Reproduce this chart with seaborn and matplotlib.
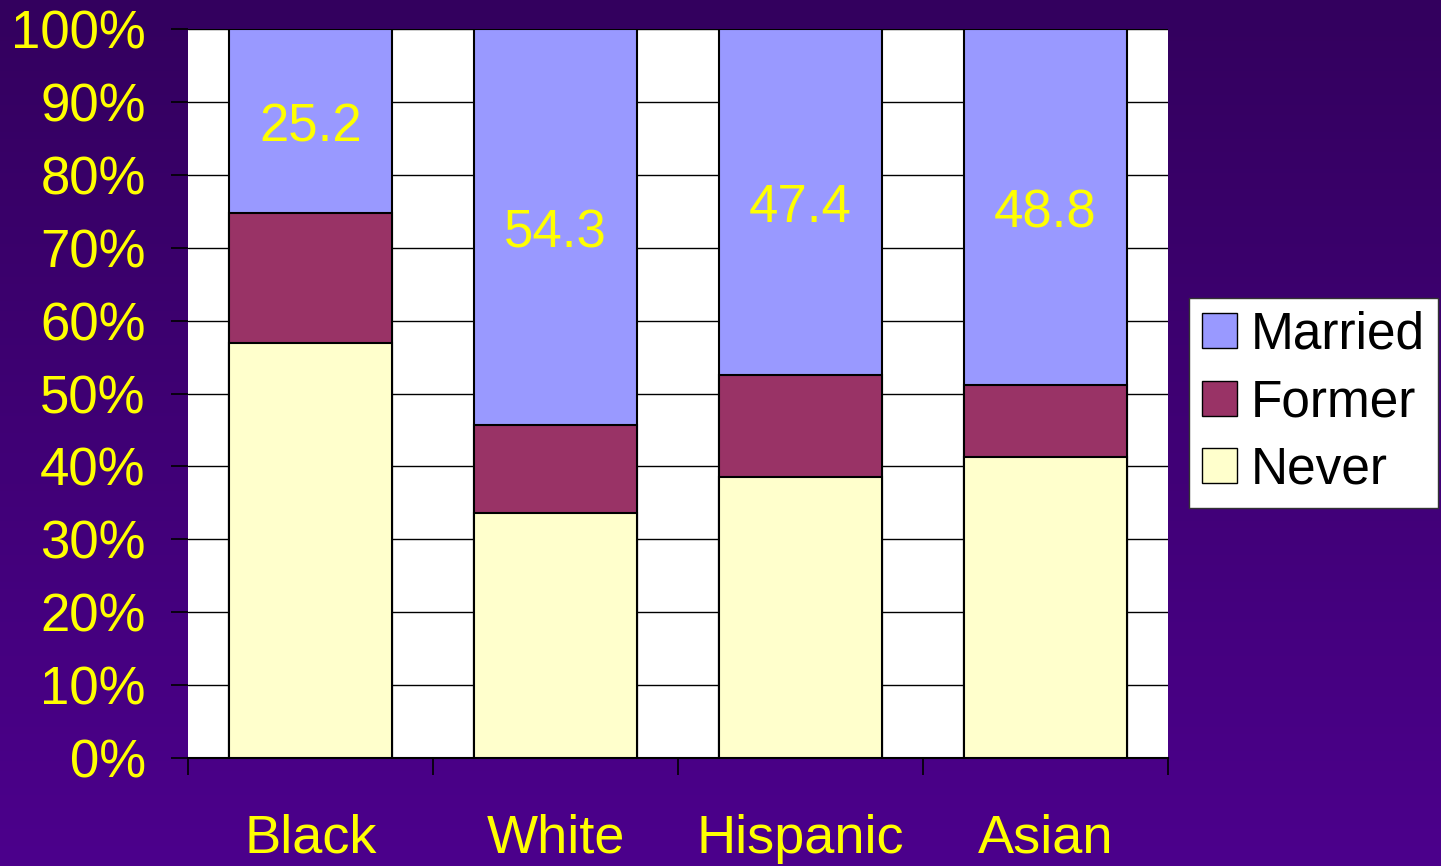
import numpy as np
import pandas as pd
import seaborn as sns
import matplotlib.pyplot as plt
from matplotlib.patches import Patch

# values (percent of each group)
groups = ["Black", "White", "Hispanic", "Asian"]
never = [56.9, 33.6, 38.5, 41.3]
former = [17.9, 12.1, 14.1, 9.9]
married = [25.2, 54.3, 47.4, 48.8]
y_ticks = list(range(0, 101, 10))

COL_NEVER = "#ffffcc"
COL_FORMER = "#993366"
COL_MARRIED = "#9999ff"
YELLOW = "#ffff00"

df = pd.DataFrame({"group": groups, "never": never, "former": former, "married": married})
df["never_top"] = df["never"]
df["former_top"] = df["never"] + df["former"]
df["married_top"] = df["former_top"] + df["married"]

sns.set_theme(style="white")
plt.rcParams["font.family"] = ["Liberation Sans", "DejaVu Sans"]

fig = plt.figure(figsize=(14.41, 8.66), dpi=100)

# purple gradient background
bg = fig.add_axes([0, 0, 1, 1], zorder=-10)
grad = np.linspace(0, 1, 256).reshape(-1, 1)
top = np.array([0x33, 0x00, 0x5e]) / 255
bot = np.array([0x4c, 0x00, 0x8c]) / 255
img = top + (bot - top) * grad[..., None]
bg.imshow(img, aspect="auto", extent=[0, 1, 0, 1])
bg.axis("off")

ax = fig.add_axes([188 / 1441, 108 / 866, 980 / 1441, 729 / 866])
ax.set_facecolor("white")

bar_kw = dict(width=0.665, edgecolor="black", linewidth=1.5, saturation=1, zorder=3)
sns.barplot(data=df, x="group", y="married_top", color=COL_MARRIED, ax=ax, **bar_kw)
sns.barplot(data=df, x="group", y="former_top", color=COL_FORMER, ax=ax, **bar_kw)
sns.barplot(data=df, x="group", y="never_top", color=COL_NEVER, ax=ax, **bar_kw)

# married share labels, centred in the married segment
for i, row in df.iterrows():
    ax.annotate(f"{row['married']:.1f}", (i, row["former_top"] + row["married"] / 2),
                xytext=(0, -4.5), textcoords="offset points",
                ha="center", va="center", color=YELLOW, fontsize=38, zorder=5)

ax.set_xlim(-0.5, len(groups) - 0.5)
ax.set_ylim(0, 100)
ax.set_yticks(y_ticks)
ax.set_yticklabels([f"{t}%" for t in y_ticks])
ax.yaxis.grid(True, color="black", linewidth=1, zorder=0)
ax.set_axisbelow(True)

ax.set_xticks(range(len(groups)))
ax.set_xticklabels(groups)
ax.set_xticks(np.arange(-0.5, len(groups), 1.0), minor=True)
ax.tick_params(axis="x", which="major", length=0, pad=40, labelsize=39, labelcolor=YELLOW)
ax.tick_params(axis="x", which="minor", length=12, width=1.2, color="black", direction="out", bottom=True)
ax.tick_params(axis="y", length=12.5, width=1.2, color="black", direction="out", left=True,
               pad=18, labelsize=38, labelcolor=YELLOW)
ax.set_xlabel("")
ax.set_ylabel("")

for side in ["top", "right", "left"]:
    ax.spines[side].set_visible(False)
ax.spines["bottom"].set_color("black")
ax.spines["bottom"].set_linewidth(1.5)

handles = [Patch(facecolor=COL_MARRIED, edgecolor="black", label="Married"),
           Patch(facecolor=COL_FORMER, edgecolor="black", label="Former"),
           Patch(facecolor=COL_NEVER, edgecolor="black", label="Never")]
leg = fig.legend(handles=handles, loc="center left", bbox_to_anchor=(1189 / 1441, 0.535),
                 fontsize=37, frameon=True, fancybox=False, framealpha=1, labelcolor="black",
                 handlelength=0.68, handleheight=0.68, handletextpad=0.28,
                 labelspacing=0.36, borderpad=0.25, borderaxespad=0)
leg.get_frame().set_edgecolor("#333333")
leg.get_frame().set_linewidth(1)
leg.get_frame().set_facecolor("white")

fig.savefig("out.png", dpi=100)
